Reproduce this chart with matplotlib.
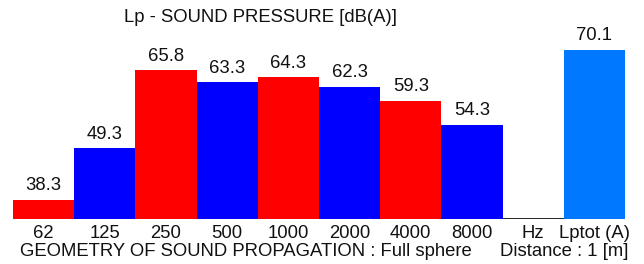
import matplotlib
matplotlib.use("Agg")
from matplotlib import pyplot as plt

plt.rcParams['font.family'] = ['Liberation Sans', 'DejaVu Sans']

# data
bands = ["62", "125", "250", "500", "1000", "2000", "4000", "8000", "Hz", "Lptot (A)"]
levels = [38.3, 49.3, 65.8, 63.3, 64.3, 62.3, 59.3, 54.3, None, 70.1]
colors = ["#ff0000", "#0000ff", "#ff0000", "#0000ff", "#ff0000", "#0000ff", "#ff0000", "#0000ff", None, "#0078ff"]

W, H = 644, 264
FS = 13.3
fig = plt.figure(figsize=(W / 100, H / 100), dpi=100)
ax = fig.add_axes([13 / W, 45 / H, 612 / W, 209 / H])

ymin = 34.27
ax.set_xlim(-0.5, len(bands) - 0.5)
ax.set_ylim(ymin, ymin + 209 / 4.717)

ax.axhline(ymin, color="black", lw=1.2, zorder=1)
for i, (v, c) in enumerate(zip(levels, colors)):
    if v is None:
        continue
    ax.bar(i, v - ymin, bottom=ymin, width=1.0, color=c, zorder=2)
    ax.annotate(f"{v:.1f}", (i, v), xytext=(0, 4), textcoords="offset points",
                ha="center", va="bottom", fontsize=FS, color="#111111")

ax.set_xticks(range(len(bands)))
ax.set_xticklabels(bands, fontsize=FS, color="#111111")
ax.tick_params(axis="x", length=0, pad=4)
ax.set_yticks([])
for s in ax.spines.values():
    s.set_visible(False)

fig.text(261 / W, 1 - 18 / H, "Lp - SOUND PRESSURE [dB(A)]", ha="center", va="center",
         fontsize=FS, color="#111111")
fig.text(20 / W, 1 - 252 / H, "GEOMETRY OF SOUND PROPAGATION : Full sphere", ha="left", va="center",
         fontsize=FS, color="#111111")
fig.text(628 / W, 1 - 252 / H, "Distance : 1 [m]", ha="right", va="center",
         fontsize=FS, color="#111111")

fig.savefig("out.png", dpi=100)
